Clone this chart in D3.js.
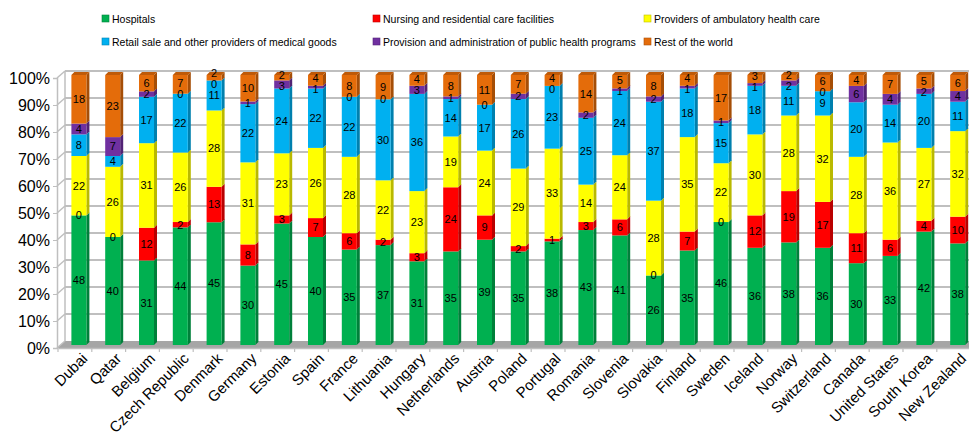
<!DOCTYPE html>
<html>
<head>
<meta charset="utf-8">
<script src="https://cdn.jsdelivr.net/npm/d3@7"></script>
<style>
  body { margin: 0; background: #fff; }
  text { font-family: "Liberation Sans", Arial, sans-serif; }
</style>
</head>
<body>
<div id="chart"></div>
<script>
// Categories and series values (percent)
const countries = ["Dubai", "Qatar", "Belgium", "Czech Republic", "Denmark", "Germany", "Estonia", "Spain", "France",
  "Lithuania", "Hungary", "Netherlands", "Austria", "Poland", "Portugal", "Romania", "Slovenia", "Slovakia",
  "Finland", "Sweden", "Iceland", "Norway", "Switzerland", "Canada", "United States", "South Korea", "New Zealand"];

const seriesNames = ["Hospitals", "Nursing and residential care facilities", "Providers of ambulatory health care",
  "Retail sale and other providers of medical goods", "Provision and administration of public health programs",
  "Rest of the world"];

const hospitals  = [48, 40, 31, 44, 45, 30, 45, 40, 35, 37, 31, 35, 39, 35, 38, 43, 41, 26, 35, 46, 36, 38, 36, 30, 33, 42, 38];
const nursing    = [0, 0, 12, 2, 13, 8, 3, 7, 6, 2, 3, 24, 9, 2, 1, 3, 6, 0, 7, 0, 12, 19, 17, 11, 6, 4, 10];
const ambulatory = [22, 26, 31, 26, 28, 31, 23, 26, 28, 22, 23, 19, 24, 29, 33, 14, 24, 28, 35, 22, 30, 28, 32, 28, 36, 27, 32];
const retail     = [8, 4, 17, 22, 11, 22, 24, 22, 22, 30, 36, 14, 17, 26, 23, 25, 24, 37, 18, 15, 18, 11, 9, 20, 14, 20, 11];
const publicHealth = [4, 7, 2, 0, 0, 1, 3, 1, 0, 0, 3, 1, 0, 2, 0, 2, 1, 2, 1, 1, 1, 2, 0, 6, 4, 2, 4];
const restOfWorld  = [18, 23, 6, 7, 2, 10, 2, 4, 8, 9, 4, 8, 11, 7, 4, 14, 5, 8, 4, 17, 3, 2, 6, 4, 7, 5, 6];

const yTicks = [0, 0.1, 0.2, 0.3, 0.4, 0.5, 0.6, 0.7, 0.8, 0.9, 1];

const colors = ["#00b050", "#ff0000", "#ffff00", "#00b0f0", "#7030a0", "#e46c0a"];

const W = 969, H = 439;
const depth = { dx: 8, dy: -7 };      // back wall offset
const barOff = { dx: 4, dy: -3 };     // bar front face offset from front plane
const barSide = { dx: 3, dy: -3 };    // bar thickness (side face)

const allSeries = [hospitals, nursing, ambulatory, retail, publicHealth, restOfWorld];
const rows = countries.map((c, i) => {
  const r = { country: c };
  seriesNames.forEach((s, k) => r[s] = allSeries[k][i]);
  return r;
});

const stack = d3.stack().keys(seriesNames).offset(d3.stackOffsetExpand);
const layers = stack(rows);

const x = d3.scaleBand().domain(countries).range([58, 970.6]).paddingInner(0);
const y = d3.scaleLinear().domain([0, 1]).range([348, 78]);
const barW = 15;

const svg = d3.select("#chart").append("svg")
  .attr("width", W).attr("height", H);

// floor
const x0 = 57, x1 = 975;
svg.append("path")
  .attr("d", `M${x0},${y(0)} L${x1},${y(0)} L${x1 + depth.dx},${y(0) + depth.dy} L${x0 + depth.dx},${y(0) + depth.dy} Z`)
  .attr("fill", "#a6a6a6");

// back wall gridlines
svg.append("g").selectAll("line.grid")
  .data(yTicks.slice(1))
  .join("line")
  .attr("x1", x0 + depth.dx).attr("x2", W)
  .attr("y1", d => y(d) + depth.dy).attr("y2", d => y(d) + depth.dy)
  .attr("stroke", "#bfbfbf").attr("stroke-width", 2);

// left side wall edges
svg.append("line")
  .attr("x1", x0 + depth.dx).attr("x2", x0 + depth.dx)
  .attr("y1", y(0) + depth.dy).attr("y2", y(1) + depth.dy)
  .attr("stroke", "#bfbfbf").attr("stroke-width", 1.5);
svg.append("g").selectAll("line")
  .data(yTicks)
  .join("line")
  .attr("x1", x0).attr("y1", d => y(d))
  .attr("x2", x0 + depth.dx).attr("y2", d => y(d) + depth.dy)
  .attr("stroke", "#bfbfbf").attr("stroke-width", 1.5);

// y axis
const yAxis = d3.axisLeft(y).tickValues(yTicks).tickFormat(d3.format(".0%")).tickSize(4).tickPadding(3);
const yg = svg.append("g").attr("transform", `translate(${x0},0)`).call(yAxis);
yg.select(".domain").attr("stroke", "#bfbfbf").attr("stroke-width", 1.5);
yg.selectAll(".tick line").attr("stroke", "#bfbfbf");
yg.selectAll("text").attr("font-size", 16).attr("fill", "#000")
  .attr("font-family", "Liberation Sans, Arial, sans-serif");

// x axis
const xAxis = d3.axisBottom(x).tickSize(0).tickFormat(d => d);
const xg = svg.append("g").attr("transform", `translate(0,${y(0)})`).call(xAxis);
xg.select(".domain").attr("stroke", "#bfbfbf").attr("stroke-width", 1.5);
xg.selectAll(".tick text")
  .attr("font-size", 15).attr("fill", "#000")
  .attr("font-family", "Liberation Sans, Arial, sans-serif")
  .attr("text-anchor", "end")
  .attr("transform", "translate(7,5) rotate(-45)")
  .attr("dy", "0.35em").attr("y", 4).attr("x", 0);
// boundary ticks between categories
svg.append("g").selectAll("line")
  .data(countries)
  .join("line")
  .attr("x1", d => x(d)).attr("x2", d => x(d))
  .attr("y1", y(0)).attr("y2", y(0) + 4)
  .attr("stroke", "#bfbfbf").attr("stroke-width", 1.2);

// bars
const bars = svg.append("g");
layers.forEach((layer, k) => {
  const col = d3.color(colors[k]);
  const g = bars.append("g");
  layer.forEach((d, i) => {
    const bx = x(countries[i]) + x.bandwidth() / 2 - barW / 2 + barOff.dx;
    const yt = y(d[1]) + barOff.dy, yb = y(d[0]) + barOff.dy;
    // side face
    g.append("path")
      .attr("d", `M${bx + barW},${yb} L${bx + barW + barSide.dx},${yb + barSide.dy} L${bx + barW + barSide.dx},${yt + barSide.dy} L${bx + barW},${yt} Z`)
      .attr("fill", col.darker(0.9));
    // front face
    g.append("rect")
      .attr("x", bx).attr("y", yt)
      .attr("width", barW).attr("height", Math.max(0, yb - yt))
      .attr("fill", colors[k]);
    // top cap on last segment
    if (k === layers.length - 1) {
      g.append("path")
        .attr("d", `M${bx},${yt} L${bx + barSide.dx},${yt + barSide.dy} L${bx + barW + barSide.dx},${yt + barSide.dy} L${bx + barW},${yt} Z`)
        .attr("fill", col.darker(0.5));
    }
  });
});

// value labels - spread apart per bar so small segments don't collide
const minGap = 11;
const labelData = [];
countries.forEach((c, i) => {
  const items = layers.map((layer, k) => ({
    i, k,
    value: layer[i].data[seriesNames[k]],
    y: y((layer[i][0] + layer[i][1]) / 2) + barOff.dy
  }));
  // relax a few times: push overlapping neighbours apart
  for (let it = 0; it < 30; it++) {
    items.sort((a, b) => a.y - b.y);
    let moved = false;
    for (let j = 1; j < items.length; j++) {
      const gap = items[j].y - items[j - 1].y;
      if (gap < minGap) {
        const push = (minGap - gap) / 2;
        items[j - 1].y -= push;
        items[j].y += push;
        moved = true;
      }
    }
    if (!moved) break;
  }
  labelData.push(...items);
});

svg.append("g").selectAll("text")
  .data(labelData)
  .join("text")
  .attr("x", d => x(countries[d.i]) + x.bandwidth() / 2 + barOff.dx)
  .attr("y", d => d.y)
  .attr("dy", "0.35em")
  .attr("text-anchor", "middle")
  .attr("font-size", 11)
  .attr("fill", "#000")
  .text(d => d.value);

// legend
const legendPos = [[102, 19], [373, 19], [644, 19], [102, 42], [373, 42], [644, 42]];
const legend = svg.append("g").selectAll("g")
  .data(seriesNames)
  .join("g")
  .attr("transform", (d, i) => `translate(${legendPos[i][0]},${legendPos[i][1]})`);
legend.append("rect")
  .attr("x", 0).attr("y", -4).attr("width", 7).attr("height", 7)
  .attr("fill", (d, i) => colors[i])
  .attr("stroke", (d, i) => d3.color(colors[i]).darker(0.8)).attr("stroke-width", 0.6);
legend.append("text")
  .attr("x", 10).attr("y", 0).attr("dy", "0.35em")
  .attr("font-size", 10.5).attr("fill", "#000")
  .text(d => d);
</script>
</body>
</html>
